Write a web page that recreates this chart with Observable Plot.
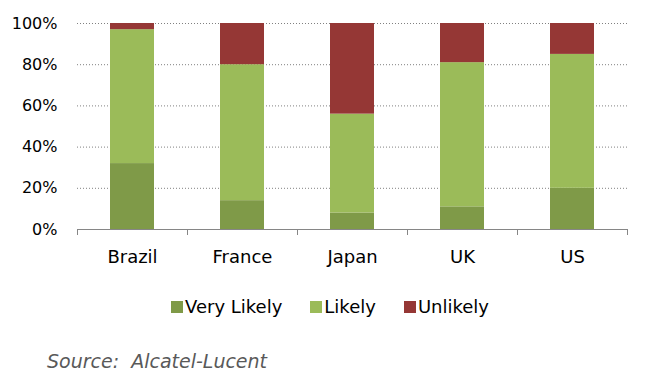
<!DOCTYPE html>
<html>
<head>
<meta charset="utf-8">
<script src="https://cdn.jsdelivr.net/npm/d3@7"></script>
<script src="https://cdn.jsdelivr.net/npm/@observablehq/plot@0.6"></script>
<style>
  html, body { margin: 0; padding: 0; background: #fff; }
  body { width: 660px; height: 374px; overflow: hidden; font-family: "DejaVu Sans", sans-serif; }
  #legend { display: flex; justify-content: center; margin-top: 10px; }
  .lg-swatches { font-family: "DejaVu Sans", sans-serif !important; font-size: 18px !important; }
  .lg-swatch { margin-right: 28px !important; font-size: 18px; color: #000; }
  .lg-swatch:last-child { margin-right: 0 !important; }
  .lg-swatch > svg { margin-right: 2px !important; }
  #source { margin: 18px 0 0 47px; font-style: italic; font-size: 19px; color: #595959; white-space: pre; }
</style>
</head>
<body>
<div id="chart"></div>
<div id="legend"></div>
<div id="source">Source:  Alcatel-Lucent</div>
<script>
const countries = ["Brazil", "France", "Japan", "UK", "US"];
const series = ["Very Likely", "Likely", "Unlikely"];
const veryLikely = [32, 14, 8, 11, 20];
const likely = [65, 66, 48, 70, 65];
const unlikely = [3, 20, 44, 19, 15];
const colors = ["#7f9a48", "#9bbb59", "#953735"];
const yTicks = [0, 20, 40, 60, 80, 100];
const gridTicks = [20, 40, 60, 80, 100];

const seriesValues = [veryLikely, likely, unlikely];
const data = [];
series.forEach((s, si) => {
  countries.forEach((c, ci) => {
    data.push({country: c, idx: ci, series: s, value: seriesValues[si][ci]});
  });
});
const boundaries = d3.range(countries.length + 1);
const centers = countries.map((c, i) => i + 0.5);

const chart = Plot.plot({
  width: 660,
  height: 280,
  marginTop: 23,
  marginBottom: 51,
  marginLeft: 77,
  marginRight: 33,
  style: {fontFamily: "'DejaVu Sans', sans-serif", fontSize: "16px", color: "#000", background: "#fff"},
  x: {domain: [0, countries.length]},
  y: {domain: [0, 100]},
  color: {domain: series, range: colors},
  marks: [
    Plot.gridY(gridTicks, {stroke: "#808080", strokeOpacity: 1, strokeDasharray: "1,2"}),
    Plot.rectY(data, Plot.stackY({
      x1: d => d.idx + 0.3,
      x2: d => d.idx + 0.7,
      y: "value",
      fill: "series",
      order: series
    })),
    Plot.ruleY([0], {stroke: "#868686", strokeWidth: 1}),
    Plot.axisX({ticks: boundaries, tickFormat: () => "", tickSize: 6, stroke: "#868686", label: null}),
    Plot.axisX({ticks: centers, tickFormat: d => countries[Math.floor(d)], tickSize: 0, tickPadding: 21, label: null, fontSize: 18}),
    Plot.axisY({ticks: yTicks, tickFormat: d => d + "%", tickSize: 0, tickPadding: 20, label: null, fontSize: 16})
  ]
});
document.getElementById("chart").appendChild(chart);

const legend = chart.legend("color", {swatchSize: 12, className: "lg"});
document.getElementById("legend").appendChild(legend);
</script>
</body>
</html>
